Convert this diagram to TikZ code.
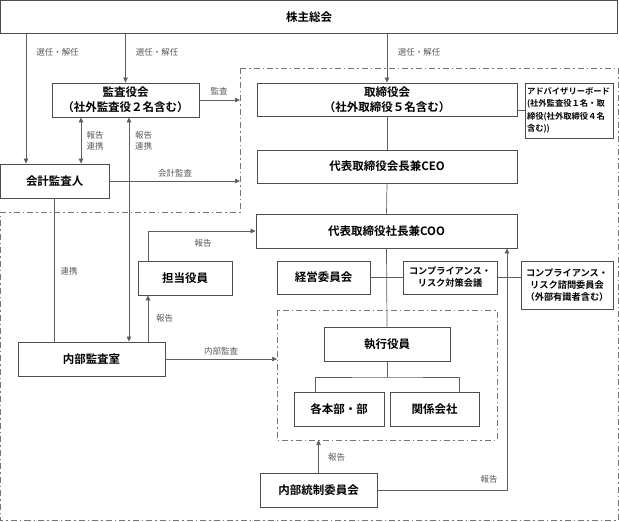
\documentclass[tikz,border=0pt]{standalone}
\usepackage{fontspec}
\setmainfont{Noto Sans CJK JP}[BoldFont={Noto Sans CJK JP Bold}]
\usepackage{xcolor}
\usepackage{tikz}
\usetikzlibrary{arrows.meta}

\definecolor{boxline}{HTML}{4D4D4D}
\definecolor{conline}{HTML}{5E5E5E}
\definecolor{lbltext}{HTML}{5A5A5A}

\begin{document}
\begin{tikzpicture}[x=1pt, y=-1pt,
    box/.style={draw=boxline, line width=0.8pt, fill=white, inner sep=0pt, align=center,
      font=\bfseries\fontsize{11.5}{15}\selectfont},
    smallbox/.style={box, font=\bfseries\fontsize{9.2}{12}\selectfont},
    lbl/.style={text=lbltext, inner sep=1pt, align=center, font=\fontsize{8.5}{11}\selectfont},
    con/.style={draw=conline, line width=0.7pt},
    arr/.style={con, -{Triangle[length=5pt, width=4.5pt]}},
    darr/.style={con, {Triangle[length=5pt, width=4.5pt]}-{Triangle[length=5pt, width=4.5pt]}},
    bound/.style={draw=conline!85, line width=0.8pt, dash pattern=on 6pt off 3pt on 1.5pt off 3pt}]
    \useasboundingbox (0,0) rectangle (619,522);

    % x of the vertical lines, y of the tree bar
    \coordinate (V1) at (26,0);
    \coordinate (V2) at (81,0);
    \coordinate (V3) at (129,0);
    \coordinate (V4) at (54,0);
    \coordinate (V5) at (148,0);
    \coordinate (V6) at (507,0);
    \coordinate (B1) at (240,0);
    \coordinate (B2) at (277,0);
    \coordinate (B3) at (0,440);
    \coordinate (T1) at (315,0);
    \coordinate (T2) at (459,0);
    \coordinate (TY) at (387,377);

    \draw [bound] (240,68) -- (618,68) -- (618,520) -- (0.5,520) -- (0.5,212) -- (240,212) -- cycle;
    \draw [bound] (277,310) rectangle (497,440);

    \node [box, minimum width=617pt, minimum height=32.5pt] (SH) at (309,16.75) {株主総会};
    \node [box, minimum width=147pt, minimum height=34pt] (KS) at (125.5,100) {監査役会\\（社外監査役２名含む）};
    \node [box, minimum width=108.5pt, minimum height=34pt] (KK) at (54.75,181) {会計監査人};
    \node [box, minimum width=260pt, minimum height=33pt] (TR) at (387,99.5) {取締役会\\（社外取締役５名含む）};
    \node [box, text width=84pt, inner sep=2pt, minimum height=55pt, align=left,
      font=\bfseries\fontsize{8.3}{12.5}\selectfont] (AD) at (569,110.5)
      {アドバイザリーボード\\(社外監査役１名・取\\締役(社外取締役４名\\含む))};
    \node [box, minimum width=260pt, minimum height=33pt] (CEO) at (387,166.5) {代表取締役会長兼CEO};
    \node [box, minimum width=261pt, minimum height=34pt] (COO) at (386.5,231) {代表取締役社長兼COO};
    \node [box, minimum width=94pt, minimum height=34pt] (TT) at (185,278) {担当役員};
    \node [box, minimum width=93pt, minimum height=33pt] (KE) at (323.5,277.5) {経営委員会};
    \node [smallbox, minimum width=94pt, minimum height=33pt] (CR) at (450,277.5) {コンプライアンス・\\リスク対策会議};
    \node [smallbox, minimum width=92pt, minimum height=48pt] (CA) at (567,285) {コンプライアンス・\\リスク諮問委員会\\（外部有識者含む）};
    \node [box, minimum width=147pt, minimum height=34pt] (NK) at (91.5,359) {内部監査室};
    \node [box, minimum width=126pt, minimum height=34pt] (SY) at (387,344) {執行役員};
    \node [box, minimum width=90pt, minimum height=34pt] (HB) at (339,409) {各本部・部};
    \node [box, minimum width=89pt, minimum height=34pt] (KG) at (434.5,409) {関係会社};
    \node [box, minimum width=117pt, minimum height=34pt] (NT) at (318.5,490) {内部統制委員会};

    \draw [arr] (SH.south -| V1) -- (KK.north -| V1);
    \draw [arr] (SH.south -| KS.north) -- (KS.north);
    \draw [arr] (SH.south -| TR.north) -- (TR.north);
    \draw [arr] (KS.east) -- (KS.east -| B1);
    \draw [darr] (KS.south -| V2) -- (KK.north -| V2);
    \draw [darr] (KS.south -| V3) -- (NK.north -| V3);
    \draw [arr] (KK.east) -- (KK.east -| B1);
    \draw [con] (KK.south -| V4) -- (NK.north -| V4);
    \draw [con] (TR.east |- AD.west) -- (AD.west);
    \draw [con] (TR.south) -- (CEO.north);
    \draw [con] (CEO.south) -- (COO.north);
    \draw [con] (COO.south) -- (SY.north);
    \draw [con] (KE.east) -- (CR.west);
    \draw [con] (CR.east) -- (CR.east -| CA.west);
    \draw [arr] (TT.north -| V5) |- (COO.west);
    \draw [arr] (NK.north -| V5) -- (TT.south -| V5);
    \draw [arr] (NK.east) -- (NK.east -| B2);
    \draw [con] (SY.south) -- (TY);
    \draw [con] (HB.north -| T1) |- (TY) -| (KG.north -| T2);
    \draw [arr] (NT.north) -- (NT.north |- B3);
    \draw [arr] (NT.east) -| (COO.south -| V6);

    \node [lbl] (L1) at (57.5,52) {選任・解任};
    \node [lbl] (L2) at (157,52) {選任・解任};
    \node [lbl] (L3) at (419,52) {選任・解任};
    \node [lbl] (L4) at (219,91) {監査};
    \node [lbl] (L5) at (95,140.5) {報告\\連携};
    \node [lbl] (L6) at (143.5,140.5) {報告\\連携};
    \node [lbl] (L7) at (175,173) {会計監査};
    \node [lbl] (L8) at (69,271) {連携};
    \node [lbl] (L9) at (203,243) {報告};
    \node [lbl] (L10) at (164.5,318) {報告};
    \node [lbl] (L11) at (221,351) {内部監査};
    \node [lbl] (L12) at (336.5,457) {報告};
    \node [lbl] (L13) at (489,479) {報告};
  \end{tikzpicture}
\end{document}
